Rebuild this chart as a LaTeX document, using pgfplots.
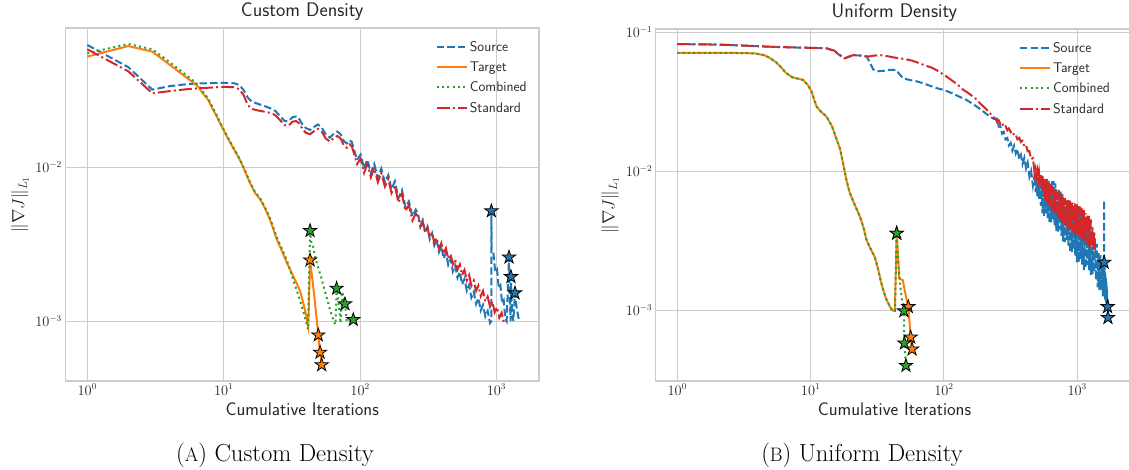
\documentclass[border=0pt]{standalone}
\usepackage{fontspec}
\usepackage{pgfplots}
\pgfplotsset{compat=1.18}
\definecolor{tabblue}{HTML}{1F77B4}
\definecolor{taborange}{HTML}{FF7F0E}
\definecolor{tabgreen}{HTML}{2CA02C}
\definecolor{tabred}{HTML}{D62728}
\definecolor{gridgray}{HTML}{CCCCCC}
\definecolor{txt}{HTML}{262626}

\pgfdeclareplotmark{fstar}{%
  \pgfpathmoveto{\pgfpointpolar{90}{\pgfplotmarksize}}%
  \pgfpathlineto{\pgfpointpolar{126}{0.382*\pgfplotmarksize}}%
  \pgfpathlineto{\pgfpointpolar{162}{\pgfplotmarksize}}%
  \pgfpathlineto{\pgfpointpolar{198}{0.382*\pgfplotmarksize}}%
  \pgfpathlineto{\pgfpointpolar{234}{\pgfplotmarksize}}%
  \pgfpathlineto{\pgfpointpolar{270}{0.382*\pgfplotmarksize}}%
  \pgfpathlineto{\pgfpointpolar{306}{\pgfplotmarksize}}%
  \pgfpathlineto{\pgfpointpolar{342}{0.382*\pgfplotmarksize}}%
  \pgfpathlineto{\pgfpointpolar{18}{\pgfplotmarksize}}%
  \pgfpathlineto{\pgfpointpolar{54}{0.382*\pgfplotmarksize}}%
  \pgfpathclose
  \pgfusepathqfillstroke
}

\tikzset{
  src/.style={tabblue, line width=2pt, dash pattern=on 7.4pt off 3.2pt},
  tgt/.style={taborange, line width=2pt, solid},
  cmb/.style={tabgreen, line width=2pt, dash pattern=on 2pt off 3.3pt},
  std/.style={tabred, line width=2pt, dash pattern=on 12.8pt off 3.2pt on 2pt off 3.2pt},
}

\begin{document}
\begin{tikzpicture}
\useasboundingbox (0,0) rectangle (1129pt,-470pt);

% ---------------- Left: Custom Density ----------------
\begin{axis}[xmode=log, ymode=log, scale only axis,
  at={(65.4pt,-381pt)}, anchor=south west,
  width=473.6pt, height=353pt,
  xmin=0.691, xmax=2051, ymin=4.07e-4, ymax=0.0806,
  xtick={1,10,100,1000}, ytick={0.001,0.01},
  axis line style={gridgray, line width=1.2pt},
  grid=major, major grid style={gridgray, line width=1pt},
  major tick length=0pt, minor tick length=0pt,
  tick label style={font=\fontsize{13.5}{13.5}\selectfont, text=txt},
  xticklabel style={anchor=base, yshift=-14pt},
  label style={font=\fontsize{18.3}{18.3}\selectfont\sffamily, text=txt},
  xlabel style={at={(0.5,0)}, anchor=base, yshift=-34pt},
  title style={font=\fontsize{19.7}{19.7}\selectfont\sffamily, text=txt, at={(0.5,1)}, anchor=base, yshift=6pt},
  xlabel={Cumulative Iterations},
  ylabel={$\|\nabla J\|_{L_1}$},
  title={Custom Density},
  legend style={draw=none, fill=none, at={(0.985,0.975)}, anchor=north east,
    font=\fontsize{14}{14}\selectfont\sffamily, text=txt, row sep=5pt},
  legend cell align=left,
  legend image code/.code={\draw[#1] (-8pt,0pt) -- (22pt,0pt);},
]
\addplot[src] coordinates {
(1,0.0625) (2,0.0448) (3,0.0320) (4,0.0337) (5,0.0345) (6,0.0350) (8,0.0353) (10,0.0355) (12,0.0352) (13,0.0343) (14,0.0318) (15,0.0285) (16,0.0268) (18,0.0258) (20,0.0250) (22,0.0242) (24,0.0232) (26,0.0215) (28,0.0200) (30,0.0200) (32,0.0212) (34,0.0214) (36,0.0205) (38,0.0188) (40,0.0180) (43,0.0175) (46,0.0183) (49,0.0190) (52,0.0183) (56,0.0164) (60,0.0156) (64,0.0165) (68,0.0171) (72,0.0164) (76,0.0148) (80,0.0143) (84,0.0150) (87,0.0146)
(90,0.0132) (95,0.0112) (101,0.0121) (107,0.0098) (113,0.0112) (120,0.0092) (127,0.0105) (135,0.0085) (143,0.0098) (152,0.0080) (161,0.0089) (170,0.0072) (180,0.0081) (191,0.0063) (203,0.0071) (215,0.0055) (228,0.0060) (242,0.0048) (256,0.0053)
(266,0.00500) (277,0.00415) (288,0.00453) (300,0.00376) (312,0.00410) (324,0.00341) (337,0.00372) (350,0.00310) (364,0.00338) (379,0.00281) (394,0.00307) (410,0.00255) (426,0.00278) (443,0.00232) (461,0.00253) (479,0.00210) (498,0.00229) (518,0.00191) (539,0.00208) (560,0.00173) (583,0.00188) (606,0.00157) (630,0.00171) (655,0.00142) (682,0.00155) (709,0.00129) (737,0.00141) (767,0.00117) (797,0.00127) (829,0.00107) (862,0.00116) (897,0.00097) (918,0.00100)
(918,0.0052) (922,0.0029) (950,0.00276) (980,0.00208) (1010,0.00216) (1040,0.00163) (1070,0.00170) (1100,0.00130) (1130,0.00136) (1160,0.00104) (1188,0.00100)
(1236,0.0026) (1245,0.0018) (1260,0.0012) (1270,0.0010) (1277,0.00194) (1290,0.0014) (1310,0.0011) (1330,0.0010) (1367,0.00152) (1400,0.00125) (1450,0.00105) (1487,0.00099)
};
\addlegendentry{Source}
\addplot[tgt] coordinates {
(1,0.0525) (2,0.0615) (3,0.0565) (4,0.0466) (5,0.0401) (6,0.0355) (6.5,0.0335) (7,0.0305) (7.7,0.0274) (8.3,0.0240) (8.9,0.0214) (9.5,0.0190) (10.5,0.0160) (11.5,0.0138) (13.2,0.0111) (14.5,0.0092) (15.6,0.0079) (17,0.0068) (18.5,0.0062) (20.1,0.0054) (22,0.0045) (24.5,0.0034) (27,0.0028) (29,0.0024) (32,0.0020) (34.3,0.00176) (36.5,0.00155) (38.4,0.0013) (40,0.00112) (41.7,0.00092) (43,0.00249) (46,0.00150) (49.4,0.00081) (50.9,0.000625) (52.3,0.000518)
};
\addlegendentry{Target}
\addplot[cmb] coordinates {
(1,0.0552) (2,0.0634) (3,0.0586) (4,0.0485) (5,0.0415) (6,0.0365) (6.5,0.0343) (7,0.0312) (7.7,0.0280) (8.3,0.0245) (8.9,0.0218) (9.5,0.0193) (10.5,0.0162) (11.5,0.0140) (13.2,0.0112) (14.5,0.0093) (15.6,0.0080) (17,0.0069) (18.5,0.0063) (20.1,0.0055) (22,0.0046) (24.5,0.0035) (27,0.0029) (29,0.0025) (31,0.0021) (33,0.00175) (35,0.00150) (37,0.00128) (39,0.00110) (41.5,0.00088) (43,0.00387) (44,0.0032) (45,0.0031) (48,0.0024) (52,0.0019) (56,0.0015) (60,0.0012) (64,0.0010) (66,0.00095) (67.3,0.00163) (70,0.00125) (72,0.00097) (74,0.00155) (77.5,0.00129) (79,0.00110) (80,0.00098) (89.2,0.00102)
};
\addlegendentry{Combined}
\addplot[std] coordinates {
(1,0.0586) (2,0.0421) (3,0.0303) (4,0.0313) (5,0.0320) (6,0.0325) (8,0.0330) (10,0.0334) (12,0.0332) (13,0.0322) (14,0.0295) (15,0.0255) (16,0.0240) (18,0.0234) (20,0.0230) (22,0.0226) (24,0.0218) (26,0.0202) (28,0.0188) (30,0.0187) (32,0.0198) (34,0.0200) (36,0.0192) (38,0.0176) (40,0.0168) (43,0.0164) (46,0.0172) (49,0.0178) (52,0.0172) (56,0.0154) (60,0.0147) (64,0.0155) (68,0.0160) (72,0.0154) (76,0.0139) (80,0.0134) (84,0.0141) (87,0.0137)
(90,0.0124) (95,0.0105) (101,0.0114) (107,0.0092) (113,0.0105) (120,0.0086) (127,0.0099) (135,0.0080) (143,0.0092) (152,0.0075) (161,0.0084) (170,0.0068) (180,0.0076) (191,0.0059) (203,0.0067) (215,0.0052) (228,0.0057) (242,0.0045) (256,0.0050)
(266,0.00479) (277,0.00409) (288,0.00442) (300,0.00377) (312,0.00407) (324,0.00349) (337,0.00376) (350,0.00323) (364,0.00348) (379,0.00297) (394,0.00321) (410,0.00274) (426,0.00297) (443,0.00254) (461,0.00273) (479,0.00234) (498,0.00252) (518,0.00216) (539,0.00233) (560,0.00199) (583,0.00215) (606,0.00184) (630,0.00199) (655,0.00170) (682,0.00183) (709,0.00157) (737,0.00170) (767,0.00145) (797,0.00157) (829,0.00134) (862,0.00144) (897,0.00124) (933,0.00134) (970,0.00114) (1009,0.00123) (1049,0.00105) (1091,0.00113) (1135,0.00097) (1156,0.00100)
};
\addlegendentry{Standard}
\addplot[only marks, mark=fstar, mark size=7pt, mark options={solid, fill=tabblue, draw=black, line width=0.8pt}, forget plot] coordinates {(918,0.0052) (1236,0.0026) (1277,0.00194) (1367,0.00152)};
\addplot[only marks, mark=fstar, mark size=7pt, mark options={solid, fill=taborange, draw=black, line width=0.8pt}, forget plot] coordinates {(43,0.00249) (49.4,0.00081) (50.9,0.000625) (52.3,0.000518)};
\addplot[only marks, mark=fstar, mark size=7pt, mark options={solid, fill=tabgreen, draw=black, line width=0.8pt}, forget plot] coordinates {(43,0.00387) (67.3,0.00163) (77.5,0.00129) (89.2,0.00102)};
\end{axis}

% ---------------- Right: Uniform Density ----------------
\begin{axis}[xmode=log, ymode=log, scale only axis,
  at={(655.7pt,-381pt)}, anchor=south west,
  width=477.5pt, height=352pt,
  xmin=0.689, xmax=2630, ymin=3.10e-4, ymax=0.1057,
  xtick={1,10,100,1000}, ytick={0.001,0.01,0.1},
  axis line style={gridgray, line width=1.2pt},
  grid=major, major grid style={gridgray, line width=1pt},
  major tick length=0pt, minor tick length=0pt,
  tick label style={font=\fontsize{13.5}{13.5}\selectfont, text=txt},
  xticklabel style={anchor=base, yshift=-14pt},
  label style={font=\fontsize{18.3}{18.3}\selectfont\sffamily, text=txt},
  xlabel style={at={(0.5,0)}, anchor=base, yshift=-34pt},
  title style={font=\fontsize{19.7}{19.7}\selectfont\sffamily, text=txt, at={(0.5,1)}, anchor=base, yshift=6pt},
  xlabel={Cumulative Iterations},
  ylabel={$\|\nabla J\|_{L_1}$},
  title={Uniform Density},
  legend style={draw=none, fill=none, at={(0.962,0.975)}, anchor=north east,
    font=\fontsize{14}{14}\selectfont\sffamily, text=txt, row sep=5pt},
  legend cell align=left,
  legend image code/.code={\draw[#1] (-8pt,0pt) -- (22pt,0pt);},
]
\addplot[src] coordinates {
(1,0.0824) (2,0.0815) (3,0.0805) (4,0.0795) (5,0.0788) (7,0.0780) (9.4,0.0775) (11,0.0772) (13.2,0.0767) (15,0.0735) (16.5,0.0685) (18,0.0650) (19.5,0.0670) (21,0.0686) (24,0.0680) (26.4,0.0668) (28,0.0600) (29.5,0.0540) (32,0.0525) (35,0.0528) (39.4,0.0537) (44,0.0537) (46,0.0505) (49.6,0.0466) (55,0.0455) (62,0.0445) (70,0.0430) (80,0.0410) (90,0.0395) (100,0.0385) (115,0.0365) (130,0.0345) (148,0.0326) (165,0.0305) (185,0.0283) (205,0.0262) (222,0.0247) (238,0.0238)
(250,0.02393) (258,0.02094) (265,0.02113) (273,0.01866) (281,0.01919) (290,0.01697) (299,0.01734) (307,0.01538) (317,0.01600) (326,0.01409) (336,0.01528) (346,0.01347) (356,0.01445) (367,0.01227) (378,0.01315) (389,0.01127) (401,0.01249) (413,0.01051) (425,0.01153) (438,0.00914) (451,0.01005) (465,0.00791)
(480,0.00955) (487,0.00710) (495,0.00912) (502,0.00661) (510,0.00920) (517,0.00635) (525,0.00918) (533,0.00565) (541,0.00906) (549,0.00498) (557,0.00839) (565,0.00479) (574,0.00873) (583,0.00499) (591,0.00881) (600,0.00461) (609,0.00877) (618,0.00426) (628,0.00809) (637,0.00429) (647,0.00849) (656,0.00451) (666,0.00853) (676,0.00409) (686,0.00818) (697,0.00370) (707,0.00725) (718,0.00369) (728,0.00736) (739,0.00381) (750,0.00719) (762,0.00344) (773,0.00689) (785,0.00312) (796,0.00611) (808,0.00310) (820,0.00621) (833,0.00321) (845,0.00612) (858,0.00290) (871,0.00603) (884,0.00262) (897,0.00544) (911,0.00262) (924,0.00569) (938,0.00274) (952,0.00570) (967,0.00247) (981,0.00560) (996,0.00221) (1011,0.00501) (1026,0.00222) (1041,0.00527) (1057,0.00235) (1073,0.00518) (1089,0.00213) (1105,0.00491) (1122,0.00195) (1139,0.00427) (1156,0.00200) (1173,0.00432) (1191,0.00212) (1208,0.00418) (1227,0.00195) (1245,0.00396) (1264,0.00179) (1283,0.00348) (1302,0.00182) (1321,0.00350) (1341,0.00187) (1361,0.00327) (1382,0.00165) (1402,0.00301) (1423,0.00146) (1445,0.00258) (1467,0.00140) (1489,0.00249) (1511,0.00140) (1534,0.00233) (1557,0.00126) (1580,0.00213)
(1586,0.00130) (1590,0.0062) (1592,0.00221) (1598,0.0013) (1604,0.0021) (1610,0.00125) (1616,0.0019) (1622,0.0012) (1628,0.0018) (1634,0.00118) (1640,0.0017) (1646,0.00115) (1652,0.0016) (1658,0.00112) (1664,0.0015) (1670,0.0011) (1676,0.0014) (1682,0.00108) (1688,0.0012) (1690,0.00106) (1700,0.000885)
};
\addlegendentry{Source}
\addplot[tgt] coordinates {
(1,0.0713) (2,0.0712) (3,0.0710) (3.8,0.0706) (4.5,0.0685) (5,0.0650) (5.5,0.0610) (6.0,0.0560) (6.6,0.0507) (7.3,0.0475) (8,0.0465) (8.8,0.0454) (9.5,0.0420) (10.2,0.0374) (10.6,0.0330) (11.1,0.0292) (12,0.0268) (13.2,0.0247) (14.5,0.0210) (15.5,0.0175) (16.6,0.0146) (17.5,0.0115) (18.5,0.0088) (19.5,0.0072) (20.3,0.0065) (21.5,0.0057) (23.5,0.0047) (25,0.0039) (26.3,0.0032) (28,0.0028) (30.3,0.00242) (32,0.00200) (33.5,0.00165) (35,0.00140) (37,0.00120) (39.4,0.00106) (41,0.00100) (42.9,0.00099) (44.2,0.00358) (46.3,0.00169) (49.1,0.00165) (52.6,0.00118) (54.1,0.00106) (56.3,0.00064) (57.7,0.000525)
};
\addlegendentry{Target}
\addplot[cmb] coordinates {
(1,0.0713) (2,0.0712) (3,0.0710) (3.8,0.0706) (4.5,0.0685) (5,0.0650) (5.5,0.0610) (6.0,0.0560) (6.6,0.0507) (7.3,0.0475) (8,0.0465) (8.8,0.0454) (9.5,0.0420) (10.2,0.0374) (10.6,0.0330) (11.1,0.0292) (12,0.0268) (13.2,0.0247) (14.5,0.0210) (15.5,0.0175) (16.6,0.0146) (17.5,0.0115) (18.5,0.0088) (19.5,0.0072) (20.3,0.0065) (21.5,0.0057) (23.5,0.0047) (25,0.0039) (26.3,0.0032) (28,0.0028) (30.3,0.00242) (32,0.00200) (33.5,0.00165) (35,0.00140) (37,0.00120) (39.4,0.00106) (41,0.00100) (42.9,0.00099) (44.2,0.00358) (45.5,0.0022) (47,0.00150) (48.5,0.00120) (50.1,0.00099) (50.5,0.00058) (51.9,0.00040)
};
\addlegendentry{Combined}
\addplot[std] coordinates {
(1,0.0824) (2,0.0818) (3,0.0805) (4,0.0795) (5,0.0788) (7,0.0780) (9.4,0.0775) (11,0.0772) (13.2,0.0767) (15,0.0740) (16.5,0.0690) (18,0.0650) (19.5,0.0670) (21,0.0686) (24,0.0680) (27,0.0670) (30,0.0680) (33,0.0687) (37.3,0.0675) (42,0.0660) (46.7,0.0650) (52,0.0640) (58,0.0625) (66,0.0598) (73,0.0575) (80,0.0560) (88,0.0535) (96,0.0507) (105,0.0480) (115,0.0450) (127,0.0420) (140,0.0385) (150,0.0370) (162,0.0350) (175,0.0330) (186,0.0309) (200,0.0290) (215,0.0270) (232,0.0250) (245,0.0236)
(250,0.02265) (258,0.02328) (265,0.02193) (273,0.02239) (281,0.02075) (290,0.02109) (299,0.01977) (307,0.02037) (317,0.01914) (326,0.01954) (336,0.01807) (346,0.01828) (356,0.01702) (367,0.01742) (378,0.01626) (389,0.01660) (401,0.01514) (413,0.01543) (425,0.01393) (438,0.01396) (451,0.01222) (465,0.01245)
(480,0.00959) (487,0.01033) (495,0.00925) (502,0.01005) (510,0.00873) (517,0.00982) (525,0.00834) (533,0.00955) (541,0.00755) (549,0.00927) (557,0.00709) (565,0.00892) (574,0.00632) (583,0.00873) (591,0.00585) (600,0.00847) (609,0.00555) (618,0.00824) (628,0.00561) (637,0.00791) (647,0.00526) (656,0.00778) (666,0.00515) (676,0.00757) (686,0.00486) (697,0.00738) (707,0.00492) (718,0.00711) (728,0.00458) (739,0.00701) (750,0.00449) (762,0.00682) (773,0.00423) (785,0.00665) (796,0.00430) (808,0.00640) (820,0.00399) (833,0.00632) (845,0.00393) (858,0.00622) (871,0.00375) (884,0.00614) (897,0.00387) (911,0.00596) (924,0.00364) (938,0.00596) (952,0.00362) (967,0.00586) (981,0.00344) (996,0.00578) (1011,0.00356) (1026,0.00561) (1041,0.00335) (1057,0.00558) (1073,0.00331) (1089,0.00542) (1105,0.00313) (1122,0.00525) (1139,0.00321) (1156,0.00501) (1173,0.00299) (1191,0.00493) (1208,0.00295) (1227,0.00478) (1245,0.00279) (1264,0.00451) (1283,0.00288) (1302,0.00406) (1321,0.00274) (1341,0.00372) (1361,0.00271)
};
\addlegendentry{Standard}
\addplot[only marks, mark=fstar, mark size=7pt, mark options={solid, fill=tabblue, draw=black, line width=0.8pt}, forget plot] coordinates {(1592,0.00221) (1690,0.00106) (1700,0.000885)};
\addplot[only marks, mark=fstar, mark size=7pt, mark options={solid, fill=taborange, draw=black, line width=0.8pt}, forget plot] coordinates {(44.2,0.00358) (54.1,0.00106) (56.3,0.00064) (57.7,0.000525)};
\addplot[only marks, mark=fstar, mark size=7pt, mark options={solid, fill=tabgreen, draw=black, line width=0.8pt}, forget plot] coordinates {(44.2,0.00358) (50.1,0.00099) (50.5,0.00058) (51.9,0.00040)};
\end{axis}

\node[font=\fontsize{24.6}{24.6}\selectfont, text=black] at (275pt,-455pt) {({\fontsize{19.5}{19.5}\selectfont A}) Custom Density};
\node[font=\fontsize{24.6}{24.6}\selectfont, text=black] at (862pt,-455pt) {({\fontsize{19.5}{19.5}\selectfont B}) Uniform Density};
\end{tikzpicture}
\end{document}
